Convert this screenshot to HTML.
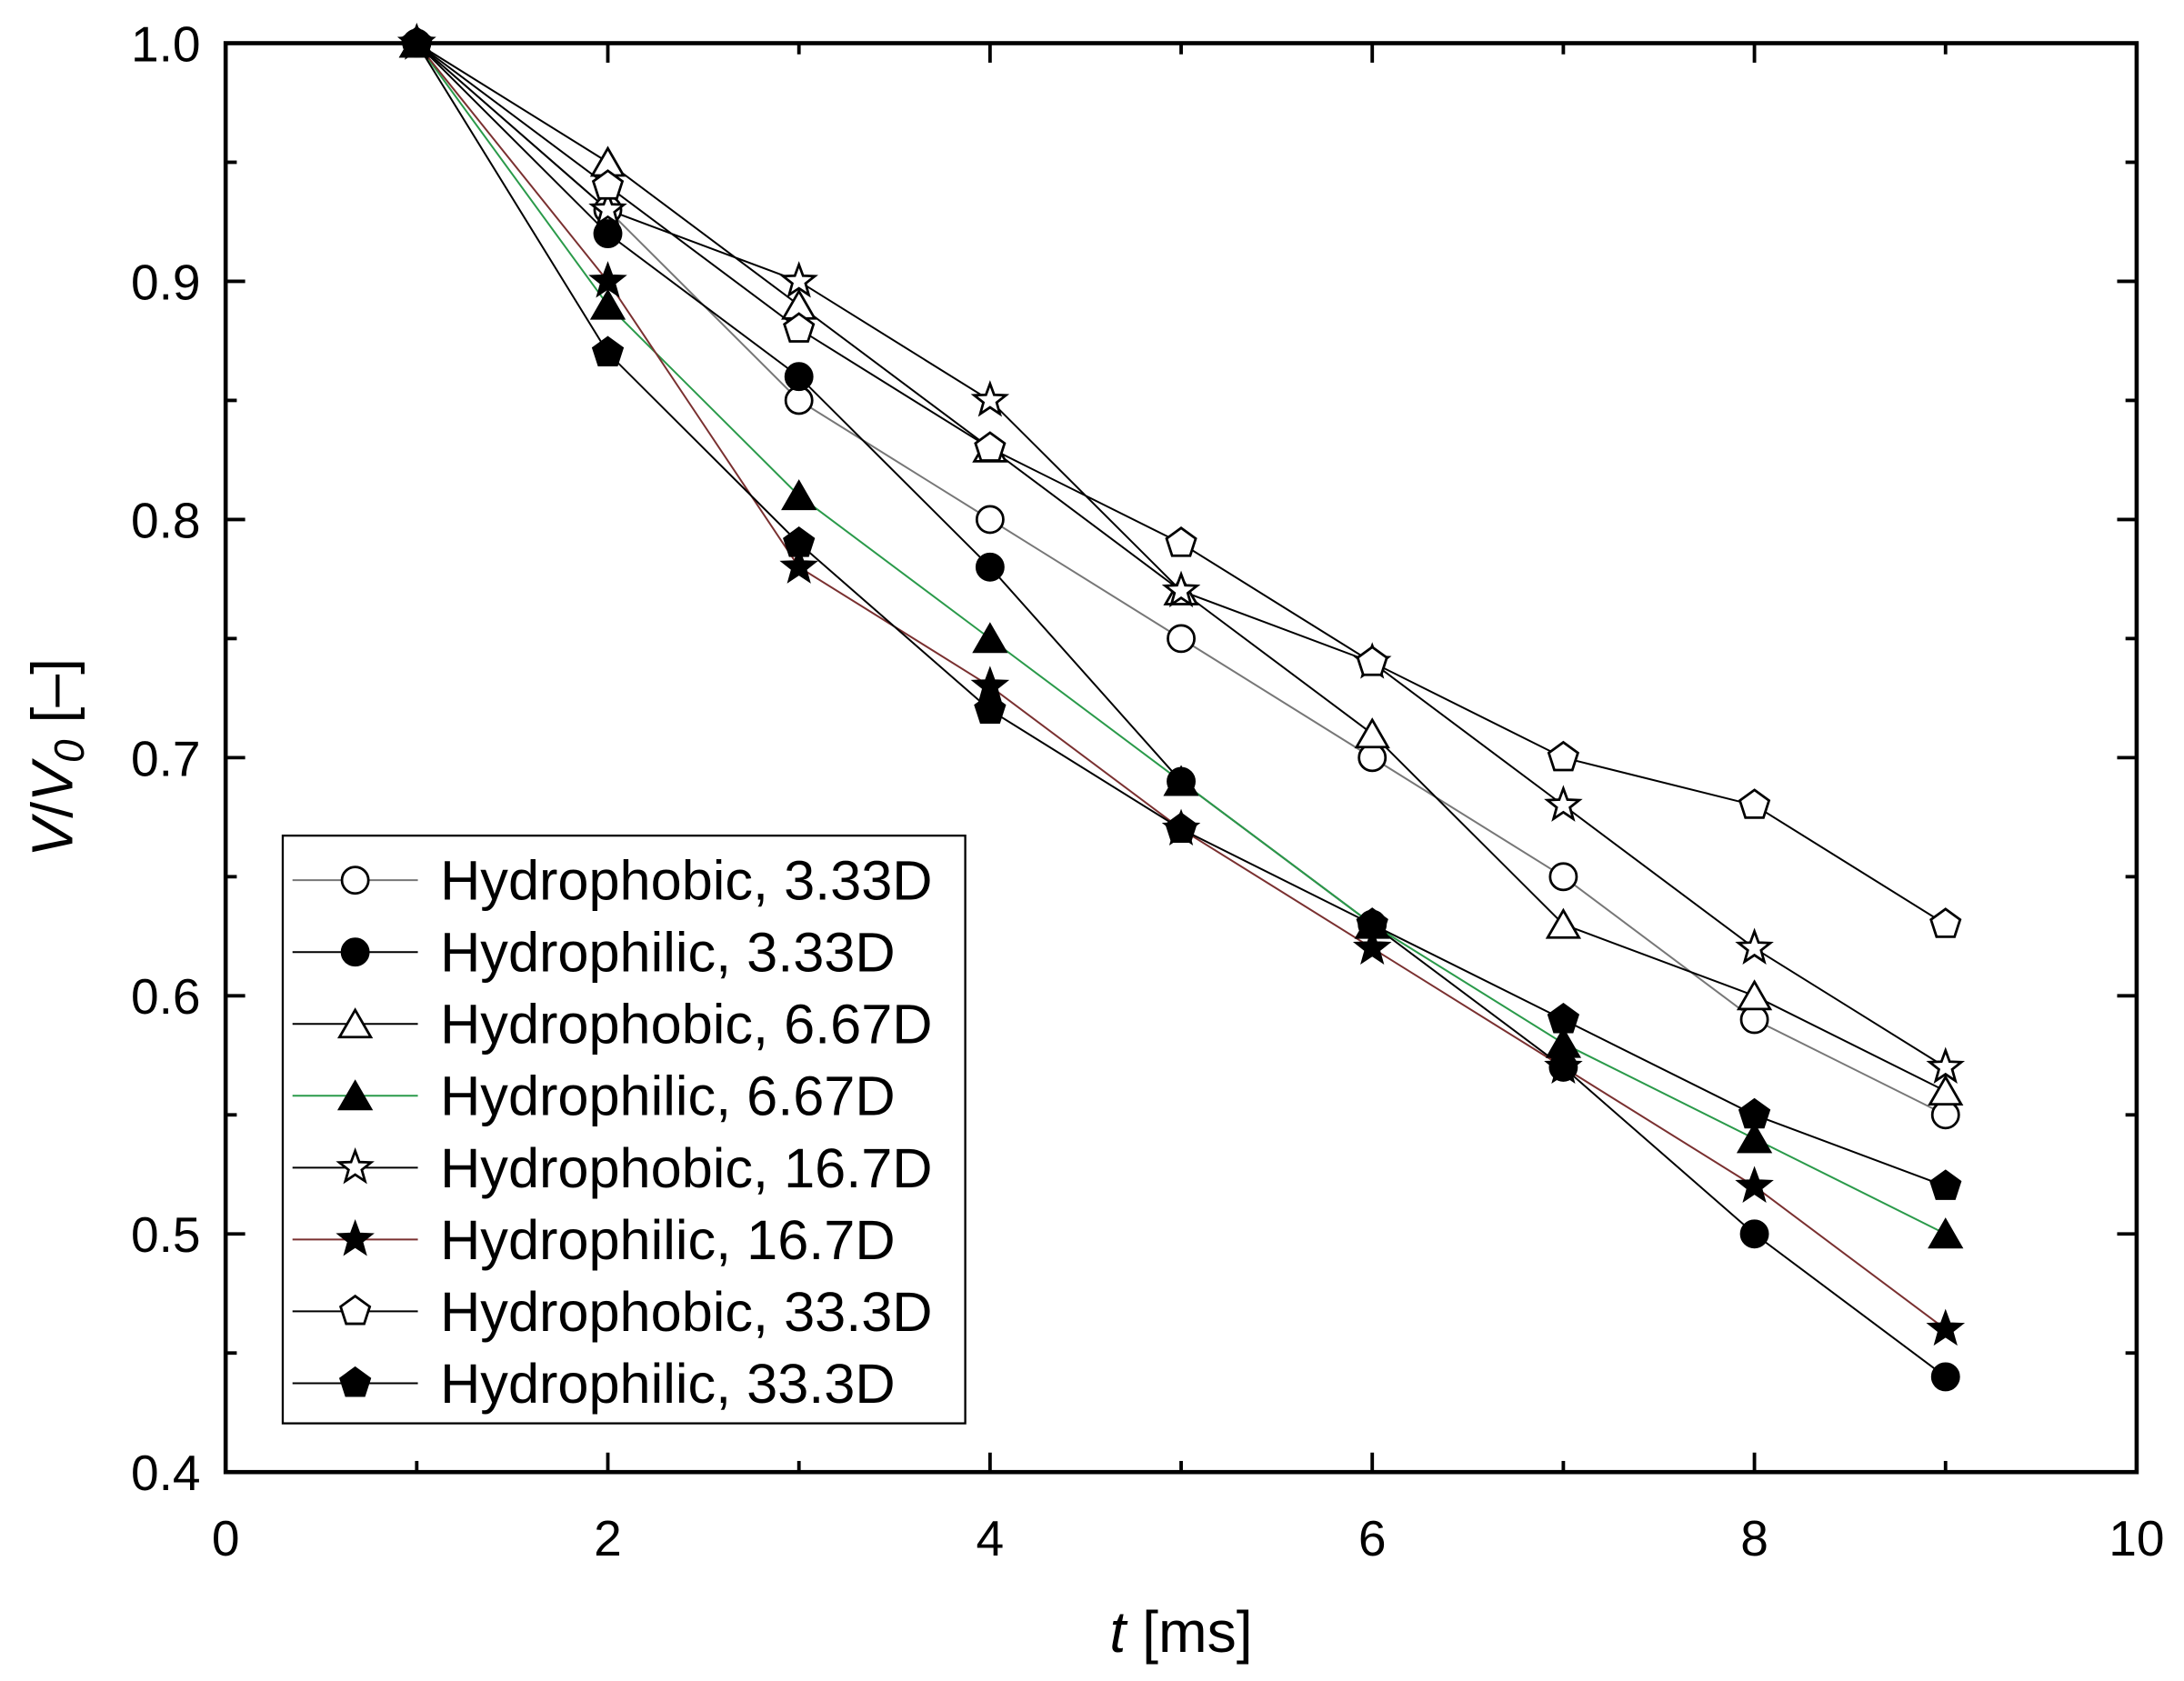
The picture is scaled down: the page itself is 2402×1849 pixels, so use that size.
<!DOCTYPE html>
<html><head><meta charset="utf-8">
<style>
html,body{margin:0;padding:0;background:#fff;}
svg{display:block;}
text{font-family:"Liberation Sans",Arial,sans-serif;fill:#000;}
</style></head>
<body>
<svg id="s" width="2402" height="1849" viewBox="0 0 1568 1207" xmlns="http://www.w3.org/2000/svg"></svg>
<script>
const s=document.getElementById('s');
const X=t=>162+t*137.2, Y=v=>31+(1-v)*1710;
let h='';
h+=`<rect x="162" y="31" width="1372" height="1026" fill="none" stroke="#000" stroke-width="3"/>`;
for(let t=0;t<=10;t++){
  const L=t%2==0?14:8, x=X(t);
  h+=`<line x1="${x}" y1="1057" x2="${x}" y2="${1057-L}" stroke="#000" stroke-width="2.5"/>`;
  h+=`<line x1="${x}" y1="31" x2="${x}" y2="${31+L}" stroke="#000" stroke-width="2.5"/>`;
  if(t%2==0) h+=`<text x="${x}" y="1117" font-size="36" text-anchor="middle">${t}</text>`;
}
for(let i=0;i<=12;i++){
  const v=0.4+i*0.05, y=Y(v), L=i%2==0?14:8;
  h+=`<line x1="162" y1="${y}" x2="${162+L}" y2="${y}" stroke="#000" stroke-width="2.5"/>`;
  h+=`<line x1="1534" y1="${y}" x2="${1534-L}" y2="${y}" stroke="#000" stroke-width="2.5"/>`;
  if(i%2==0) h+=`<text x="144" y="${y+13}" font-size="36" text-anchor="end">${v.toFixed(1)}</text>`;
}
h+=`<text x="848" y="1186" font-size="42" text-anchor="middle"><tspan font-style="italic">t</tspan> [ms]</text>`;
h+=`<text transform="translate(52,544) rotate(-90)" font-size="42" text-anchor="middle"><tspan font-style="italic">V</tspan>/<tspan font-style="italic">V</tspan><tspan font-style="italic" font-size="30" dy="8">0</tspan><tspan dy="-8"> [–]</tspan></text>`;
function marker(type,fill,x,y){
  const f=fill?'#000':'#fff', st='stroke="#000" stroke-width="1.8"';
  if(type=='c') return `<circle cx="${x}" cy="${y}" r="9.5" fill="${f}" ${st}/>`;
  let pts=[],n,r,ri;
  if(type=='t'){n=3;r=13;}
  if(type=='p'){n=5;r=11;}
  if(type=='s'){n=5;r=12;ri=5;}
  for(let k=0;k<n;k++){
    const a=-Math.PI/2+k*2*Math.PI/n;
    const yo=type=='t'?3:0;
    pts.push([x+r*Math.cos(a),y+yo+r*Math.sin(a)]);
    if(ri){const b=a+Math.PI/n;pts.push([x+ri*Math.cos(b),y+ri*Math.sin(b)]);}
  }
  return `<polygon points="${pts.map(p=>p.join(',')).join(' ')}" fill="${f}" ${st}/>`;
}
const series=[
 ['Hydrophobic, 3.33D','c',0,'#777',[1,.93,.85,.80,.75,.70,.65,.59,.55]],
 ['Hydrophilic, 3.33D','c',1,'#000',[1,.92,.86,.78,.69,.63,.57,.50,.44]],
 ['Hydrophobic, 6.67D','t',0,'#000',[1,.95,.89,.83,.77,.71,.63,.60,.56]],
 ['Hydrophilic, 6.67D','t',1,'#2a9a4a',[1,.89,.81,.75,.69,.63,.58,.54,.50]],
 ['Hydrophobic, 16.7D','s',0,'#000',[1,.93,.90,.85,.77,.74,.68,.62,.57]],
 ['Hydrophilic, 16.7D','s',1,'#7a3030',[1,.90,.78,.73,.67,.62,.57,.52,.46]],
 ['Hydrophobic, 33.3D','p',0,'#000',[1,.94,.88,.83,.79,.74,.70,.68,.63]],
 ['Hydrophilic, 33.3D','p',1,'#000',[1,.87,.79,.72,.67,.63,.59,.55,.52]],
];
series.forEach(([n,t,f,c,d])=>{
  h+=`<polyline fill="none" stroke="${c}" stroke-width="1.3" points="${d.map((v,i)=>X(i+1)+','+Y(v)).join(' ')}"/>`;
});
series.forEach(([n,t,f,c,d])=>{d.forEach((v,i)=>h+=marker(t,f,X(i+1),Y(v)));});
h+=`<rect x="203" y="600" width="490" height="422" fill="#fff" stroke="#000" stroke-width="1.5"/>`;
series.forEach(([n,t,f,c,d],i)=>{
  const y=632+i*51.6;
  h+=`<line x1="210" y1="${y}" x2="300" y2="${y}" stroke="${c}" stroke-width="1.3"/>`;
  h+=marker(t,f,255,y);
  h+=`<text x="316" y="${y+14}" font-size="40">${n}</text>`;
});
s.innerHTML=h;
</script>
</body></html>
